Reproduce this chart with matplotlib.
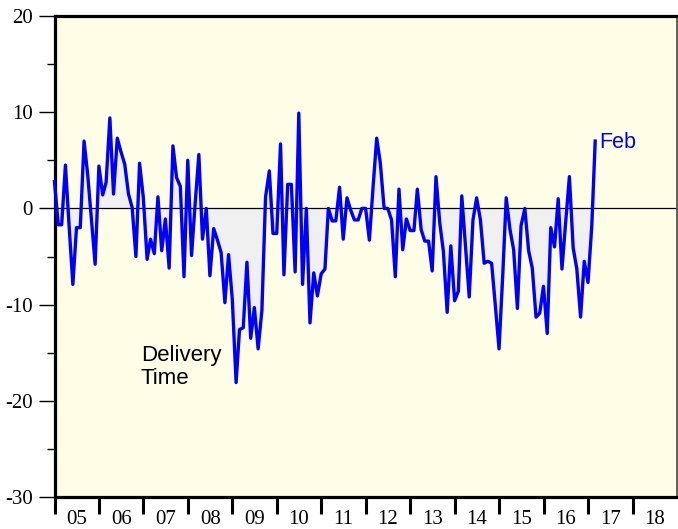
"""Delivery time index, monthly, Dec 2004 - Feb 2017."""

import matplotlib

matplotlib.use("Agg")
import matplotlib.dates as mdates
import matplotlib.pyplot as plt
import matplotlib.ticker as mticker
import pandas as pd

plt.rcParams["axes.unicode_minus"] = False

# Monthly values, first point Dec 2004 (plotted at month end).
start_month = "2004-12-31"
delivery = [
    2.8, -1.7, -1.7, 4.5, -1.8, -7.9, -2.0, -2.0, 7.0, 3.5, -1.2, -5.8,
    4.4, 1.4, 2.7, 9.4, 1.5, 7.3, 5.9, 4.6, 1.5, 0.1, -5.0, 4.7,
    1.1, -5.3, -3.2, -4.7, 1.2, -4.4, -1.1, -6.2, 6.5, 3.2, 2.3, -7.1,
    5.0, -4.9, 0.4, 5.6, -3.2, 0.0, -7.0, -2.1, -3.3, -4.6, -9.8, -4.8,
    -9.5, -18.1, -12.6, -12.4, -5.6, -13.5, -10.3, -14.6, -10.6, 1.2, 3.9, -2.6,
    -2.6, 6.7, -6.9, 2.5, 2.5, -6.6, 9.9, -7.9, 0.0, -11.9, -6.7, -9.1,
    -6.8, -6.3, 0.0, -1.3, -1.3, 2.2, -3.2, 1.1, -0.2, -1.2, -1.2, 0.0,
    0.0, -3.3, 2.0, 7.3, 4.7, 0.0, 0.0, -1.2, -7.1, 2.0, -4.3, -1.1,
    -2.3, -2.3, 2.0, -2.2, -3.4, -3.4, -6.5, 3.3, -1.5, -4.5, -10.8, -3.9,
    -9.6, -8.6, 1.3, -4.0, -9.2, -1.2, 1.1, -1.2, -5.7, -5.5, -5.7, -10.0,
    -14.6, -6.8, 1.1, -2.2, -4.3, -10.4, -1.8, 0.0, -4.4, -6.2, -11.3, -10.9,
    -8.1, -13.0, -2.0, -4.0, 1.0, -6.3, -1.5, 3.3, -4.1, -6.3, -11.3, -5.5,
    -7.7, -1.8, 7.0,
]
years = list(range(2005, 2019))
year_labels = [f"{y % 100:02d}" for y in years]
y_major = [-30, -20, -10, 0, 10, 20]
y_minor = [-25, -15, -5, 5, 15]

dates = pd.date_range(start_month, periods=len(delivery), freq="ME")

SERIF = "Liberation Serif"
SANS = "Liberation Sans"

fig = plt.figure(figsize=(6.78, 5.29), dpi=100)
ax = fig.add_axes([54.6 / 678, 32 / 529, (677 - 54.6) / 678, 481 / 529])
ax.set_facecolor("#fefee6")

ax.fill_between(dates, delivery, 0, color="#f0f0f0", lw=0, zorder=1)
ax.axhline(0, color="black", lw=0.9, zorder=2)
# first point sits on the left spine, so don't clip it away
ax.plot(dates, delivery, color="#0000ff", lw=2.4, zorder=3, clip_on=False)

ax.annotate("Feb", xy=(dates[-1], delivery[-1]), xytext=(3, -1), textcoords="offset points",
            color="#0000ff", fontsize=15.5, family=SANS, va="center", ha="left")
ax.text(pd.Timestamp("2006-12-10"), -14.2, "Delivery\nTime", fontsize=16, family=SANS,
        va="top", ha="left", linespacing=1.15)

ax.set_xlim(pd.Timestamp("2005-01-01"), pd.Timestamp("2019-01-01"))
ax.set_ylim(-30, 20)

# year boundaries as ticks, two-digit year labels centred between them
ax.xaxis.set_major_locator(mticker.FixedLocator([mdates.date2num(pd.Timestamp(f"{y}-01-01")) for y in years]))
ax.xaxis.set_major_formatter(mticker.NullFormatter())
ax.xaxis.set_minor_locator(mticker.FixedLocator([mdates.date2num(pd.Timestamp(f"{y}-07-02")) for y in years]))
ax.xaxis.set_minor_formatter(mticker.FixedFormatter(year_labels))
ax.tick_params(axis="x", which="major", direction="out", length=12, width=2.2, color="black")
ax.tick_params(axis="x", which="minor", length=0, pad=9, labelsize=15, labelfontfamily=SERIF)

ax.yaxis.set_major_locator(mticker.FixedLocator(y_major))
ax.yaxis.set_minor_locator(mticker.FixedLocator(y_minor))
ax.tick_params(axis="y", which="major", direction="out", length=11.5, width=1.0, pad=4,
               labelsize=15, labelfontfamily=SERIF)
ax.tick_params(axis="y", which="minor", direction="out", length=6, width=1.0)

for side in ("left", "top", "bottom"):
    ax.spines[side].set_linewidth(2.3)
    ax.spines[side].set_color("black")
ax.spines["right"].set_linewidth(1.2)
ax.spines["right"].set_color("#444444")

fig.savefig("out.png", dpi=100)
